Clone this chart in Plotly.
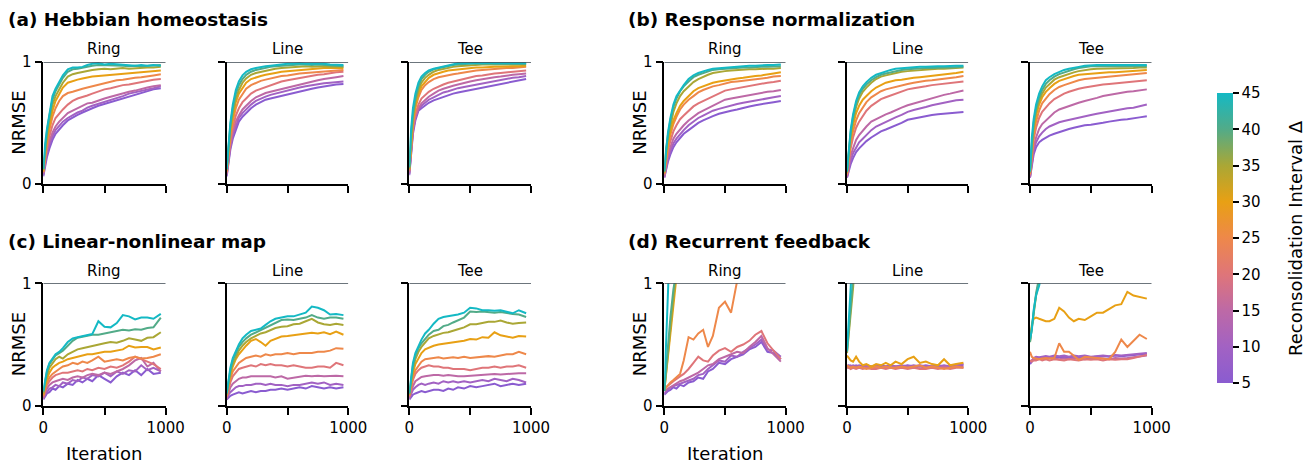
import plotly.graph_objects as go
from plotly.colors import sample_colorscale

# ---------------- data ----------------
ITER = [0, 15, 30, 50, 75, 100, 130, 160, 200, 240, 280, 320, 360, 400, 450,
        500, 550, 600, 650, 700, 750, 800, 850, 900, 960]
DELTAS = [5, 10, 15, 20, 25, 30, 35, 40, 45]
TOPOLOGIES = ["Ring", "Line", "Tee"]
PANEL_TITLES = ["(a) Hebbian homeostasis", "(b) Response normalization",
                "(c) Linear-nonlinear map", "(d) Recurrent feedback"]
CB_TICKS = [5, 10, 15, 20, 25, 30, 35, 40, 45]
CB_TITLE = "Reconsolidation Interval Δ"

# each list: one line per Delta (5 ... 45), NRMSE at ITER
A_RING = [
    [0.06,0.16,0.22,0.29,0.36,0.41,0.45,0.48,0.52,0.545,0.565,0.585,0.605,0.62,0.64,0.655,0.67,0.69,0.70,0.72,0.735,0.75,0.76,0.775,0.785],
    [0.07,0.18,0.25,0.32,0.39,0.44,0.48,0.51,0.54,0.565,0.585,0.60,0.625,0.64,0.655,0.67,0.69,0.705,0.72,0.74,0.75,0.765,0.775,0.785,0.80],
    [0.08,0.20,0.27,0.35,0.42,0.47,0.51,0.54,0.58,0.60,0.62,0.635,0.66,0.665,0.685,0.70,0.715,0.73,0.74,0.755,0.765,0.78,0.79,0.80,0.81],
    [0.09,0.22,0.30,0.39,0.48,0.54,0.58,0.61,0.65,0.68,0.70,0.71,0.725,0.74,0.76,0.775,0.785,0.80,0.81,0.815,0.825,0.835,0.845,0.855,0.86],
    [0.10,0.25,0.34,0.44,0.55,0.62,0.68,0.72,0.745,0.755,0.77,0.78,0.79,0.80,0.815,0.83,0.84,0.85,0.855,0.865,0.87,0.875,0.88,0.89,0.90],
    [0.10,0.27,0.37,0.48,0.60,0.68,0.74,0.79,0.83,0.845,0.855,0.865,0.875,0.88,0.885,0.89,0.895,0.90,0.905,0.91,0.915,0.915,0.92,0.925,0.93],
    [0.11,0.29,0.40,0.52,0.65,0.72,0.78,0.83,0.88,0.90,0.91,0.92,0.93,0.935,0.94,0.945,0.94,0.945,0.95,0.945,0.95,0.95,0.955,0.955,0.96],
    [0.12,0.31,0.43,0.56,0.69,0.76,0.82,0.87,0.92,0.94,0.945,0.955,0.96,0.97,0.975,0.975,0.97,0.975,0.97,0.965,0.97,0.965,0.97,0.97,0.975],
    [0.12,0.33,0.45,0.58,0.72,0.78,0.84,0.89,0.94,0.955,0.955,0.96,0.975,0.985,0.99,0.98,0.985,0.98,0.975,0.975,0.97,0.975,0.97,0.975,0.97],
]
A_LINE = [
    [0.06,0.19,0.28,0.37,0.45,0.51,0.55,0.58,0.62,0.65,0.67,0.69,0.70,0.71,0.72,0.73,0.745,0.76,0.77,0.78,0.79,0.80,0.805,0.815,0.82],
    [0.07,0.21,0.30,0.40,0.48,0.54,0.58,0.61,0.65,0.68,0.70,0.715,0.73,0.74,0.755,0.77,0.78,0.79,0.80,0.81,0.815,0.825,0.83,0.835,0.84],
    [0.08,0.22,0.32,0.42,0.51,0.56,0.61,0.64,0.68,0.71,0.73,0.745,0.755,0.765,0.78,0.79,0.80,0.815,0.83,0.84,0.85,0.86,0.87,0.875,0.885],
    [0.09,0.25,0.35,0.46,0.56,0.62,0.67,0.70,0.74,0.765,0.78,0.795,0.81,0.825,0.84,0.85,0.86,0.87,0.88,0.885,0.895,0.90,0.91,0.915,0.92],
    [0.10,0.27,0.39,0.51,0.62,0.69,0.74,0.78,0.81,0.83,0.845,0.855,0.865,0.875,0.885,0.89,0.90,0.905,0.91,0.915,0.92,0.925,0.93,0.93,0.935],
    [0.11,0.29,0.42,0.55,0.67,0.74,0.79,0.83,0.86,0.875,0.885,0.895,0.905,0.91,0.92,0.925,0.93,0.935,0.94,0.94,0.945,0.95,0.95,0.95,0.95],
    [0.11,0.31,0.45,0.58,0.70,0.77,0.83,0.865,0.895,0.91,0.92,0.93,0.94,0.945,0.95,0.955,0.96,0.96,0.965,0.96,0.965,0.965,0.96,0.96,0.96],
    [0.12,0.33,0.48,0.62,0.74,0.81,0.86,0.895,0.92,0.935,0.945,0.95,0.96,0.965,0.97,0.975,0.975,0.98,0.98,0.975,0.98,0.975,0.97,0.97,0.965],
    [0.12,0.35,0.50,0.65,0.77,0.84,0.89,0.92,0.94,0.95,0.96,0.965,0.97,0.975,0.98,0.985,0.985,0.99,0.985,0.985,0.99,0.985,0.98,0.98,0.975],
]
A_TEE = [
    [0.07,0.27,0.41,0.52,0.60,0.62,0.645,0.665,0.685,0.70,0.715,0.73,0.74,0.75,0.76,0.77,0.78,0.79,0.80,0.81,0.82,0.83,0.84,0.85,0.86],
    [0.08,0.29,0.43,0.54,0.61,0.64,0.665,0.69,0.71,0.73,0.75,0.76,0.775,0.785,0.795,0.805,0.815,0.825,0.835,0.845,0.855,0.865,0.87,0.875,0.885],
    [0.09,0.30,0.44,0.55,0.62,0.66,0.69,0.715,0.74,0.765,0.78,0.795,0.805,0.815,0.83,0.84,0.85,0.86,0.87,0.875,0.88,0.89,0.895,0.90,0.905],
    [0.10,0.32,0.46,0.57,0.65,0.70,0.73,0.755,0.78,0.80,0.815,0.83,0.84,0.85,0.86,0.875,0.885,0.89,0.90,0.905,0.91,0.915,0.92,0.925,0.93],
    [0.11,0.35,0.50,0.62,0.71,0.77,0.81,0.835,0.86,0.875,0.885,0.895,0.90,0.905,0.915,0.92,0.93,0.935,0.94,0.94,0.945,0.95,0.95,0.955,0.96],
    [0.12,0.37,0.52,0.64,0.74,0.80,0.84,0.87,0.895,0.91,0.92,0.93,0.935,0.94,0.945,0.95,0.955,0.955,0.96,0.96,0.96,0.965,0.965,0.965,0.97],
    [0.12,0.39,0.55,0.67,0.77,0.83,0.87,0.895,0.92,0.935,0.945,0.955,0.96,0.965,0.97,0.975,0.975,0.98,0.98,0.98,0.975,0.98,0.98,0.98,0.98],
    [0.13,0.41,0.57,0.70,0.80,0.86,0.895,0.92,0.94,0.95,0.96,0.97,0.975,0.98,0.985,0.985,0.99,0.985,0.99,0.985,0.985,0.99,0.985,0.985,0.985],
    [0.14,0.45,0.62,0.74,0.83,0.88,0.91,0.93,0.945,0.955,0.965,0.975,0.985,0.99,0.99,0.99,0.995,0.99,0.99,0.995,0.99,0.99,0.99,0.995,0.99],
]
B_RING = [
    [0.05,0.12,0.18,0.24,0.30,0.34,0.38,0.41,0.44,0.47,0.50,0.52,0.54,0.555,0.575,0.59,0.60,0.61,0.625,0.635,0.645,0.655,0.66,0.67,0.68],
    [0.05,0.14,0.20,0.27,0.33,0.37,0.41,0.44,0.48,0.51,0.54,0.56,0.58,0.60,0.615,0.63,0.645,0.655,0.665,0.675,0.685,0.695,0.70,0.71,0.72],
    [0.06,0.16,0.23,0.30,0.37,0.41,0.45,0.48,0.52,0.55,0.58,0.60,0.62,0.64,0.665,0.69,0.70,0.71,0.72,0.73,0.74,0.75,0.755,0.76,0.77],
    [0.07,0.19,0.27,0.35,0.43,0.48,0.53,0.56,0.60,0.635,0.66,0.68,0.70,0.72,0.745,0.765,0.775,0.785,0.795,0.805,0.815,0.825,0.83,0.835,0.845],
    [0.08,0.22,0.31,0.40,0.49,0.55,0.61,0.65,0.69,0.72,0.75,0.77,0.785,0.80,0.81,0.825,0.835,0.84,0.845,0.855,0.86,0.865,0.87,0.88,0.885],
    [0.09,0.24,0.33,0.43,0.52,0.58,0.64,0.68,0.72,0.76,0.785,0.80,0.815,0.83,0.84,0.85,0.86,0.865,0.87,0.88,0.885,0.89,0.895,0.905,0.915],
    [0.09,0.27,0.37,0.48,0.59,0.66,0.72,0.76,0.80,0.835,0.86,0.88,0.895,0.91,0.92,0.925,0.93,0.935,0.935,0.94,0.94,0.945,0.945,0.945,0.95],
    [0.10,0.29,0.40,0.52,0.63,0.70,0.76,0.80,0.84,0.875,0.895,0.91,0.925,0.935,0.94,0.945,0.95,0.955,0.955,0.955,0.96,0.96,0.96,0.96,0.965],
    [0.10,0.30,0.42,0.54,0.65,0.72,0.77,0.81,0.86,0.89,0.91,0.925,0.935,0.945,0.95,0.955,0.96,0.965,0.965,0.97,0.97,0.975,0.975,0.975,0.98],
]
B_LINE = [
    [0.05,0.11,0.16,0.21,0.26,0.29,0.32,0.35,0.38,0.405,0.43,0.445,0.46,0.475,0.50,0.525,0.535,0.55,0.555,0.565,0.57,0.575,0.58,0.585,0.59],
    [0.05,0.13,0.19,0.25,0.30,0.34,0.37,0.40,0.44,0.47,0.49,0.51,0.53,0.545,0.565,0.59,0.605,0.615,0.63,0.645,0.655,0.665,0.675,0.685,0.69],
    [0.06,0.16,0.23,0.29,0.36,0.40,0.44,0.47,0.51,0.53,0.555,0.57,0.585,0.60,0.625,0.645,0.66,0.675,0.69,0.70,0.715,0.73,0.74,0.75,0.765],
    [0.07,0.20,0.29,0.38,0.46,0.51,0.56,0.60,0.64,0.67,0.695,0.71,0.725,0.74,0.76,0.775,0.785,0.79,0.80,0.81,0.815,0.82,0.825,0.83,0.84],
    [0.08,0.23,0.33,0.43,0.52,0.58,0.63,0.67,0.71,0.735,0.76,0.775,0.785,0.80,0.81,0.82,0.83,0.84,0.845,0.85,0.855,0.86,0.865,0.875,0.885],
    [0.09,0.26,0.37,0.48,0.58,0.64,0.69,0.72,0.76,0.79,0.81,0.83,0.84,0.85,0.855,0.865,0.87,0.875,0.88,0.885,0.89,0.895,0.905,0.91,0.92],
    [0.09,0.28,0.40,0.52,0.63,0.70,0.755,0.79,0.83,0.86,0.88,0.89,0.90,0.91,0.92,0.925,0.93,0.935,0.94,0.94,0.945,0.945,0.95,0.95,0.955],
    [0.10,0.30,0.42,0.55,0.66,0.73,0.78,0.815,0.85,0.875,0.895,0.905,0.915,0.925,0.935,0.94,0.945,0.945,0.95,0.95,0.955,0.955,0.955,0.96,0.96],
    [0.10,0.31,0.44,0.57,0.68,0.75,0.80,0.835,0.87,0.895,0.91,0.925,0.935,0.945,0.95,0.955,0.955,0.96,0.96,0.965,0.965,0.965,0.97,0.97,0.97],
]
B_TEE = [
    [0.05,0.16,0.24,0.30,0.34,0.36,0.38,0.395,0.41,0.425,0.44,0.45,0.46,0.47,0.48,0.485,0.49,0.50,0.51,0.52,0.525,0.53,0.535,0.545,0.555],
    [0.05,0.18,0.27,0.34,0.39,0.42,0.45,0.47,0.49,0.505,0.515,0.525,0.535,0.545,0.555,0.565,0.575,0.585,0.59,0.60,0.61,0.62,0.625,0.635,0.65],
    [0.06,0.21,0.30,0.38,0.45,0.49,0.52,0.55,0.585,0.61,0.625,0.64,0.655,0.665,0.68,0.69,0.705,0.72,0.73,0.735,0.745,0.755,0.76,0.765,0.775],
    [0.07,0.25,0.36,0.46,0.54,0.59,0.63,0.66,0.695,0.72,0.74,0.755,0.77,0.78,0.79,0.80,0.805,0.815,0.82,0.825,0.83,0.835,0.84,0.845,0.85],
    [0.08,0.28,0.40,0.51,0.60,0.66,0.70,0.735,0.77,0.795,0.81,0.825,0.84,0.85,0.86,0.865,0.875,0.88,0.885,0.885,0.89,0.895,0.90,0.905,0.91],
    [0.09,0.31,0.44,0.56,0.65,0.71,0.755,0.785,0.82,0.845,0.86,0.875,0.885,0.895,0.90,0.905,0.91,0.915,0.915,0.915,0.92,0.92,0.925,0.93,0.935],
    [0.09,0.33,0.47,0.59,0.68,0.74,0.79,0.82,0.855,0.875,0.89,0.905,0.915,0.925,0.935,0.94,0.945,0.945,0.945,0.945,0.945,0.95,0.95,0.955,0.955],
    [0.10,0.35,0.50,0.62,0.71,0.77,0.82,0.85,0.88,0.90,0.915,0.93,0.94,0.95,0.96,0.965,0.965,0.965,0.965,0.965,0.96,0.96,0.965,0.965,0.965],
    [0.10,0.38,0.53,0.65,0.74,0.80,0.85,0.875,0.90,0.92,0.935,0.945,0.95,0.96,0.97,0.975,0.975,0.975,0.975,0.98,0.975,0.975,0.98,0.98,0.975],
]
C_RING = [
    [0.05,0.08,0.10,0.11,0.14,0.13,0.16,0.15,0.18,0.17,0.21,0.19,0.22,0.20,0.25,0.22,0.19,0.24,0.27,0.25,0.29,0.25,0.30,0.26,0.27],
    [0.06,0.10,0.11,0.14,0.15,0.17,0.16,0.19,0.18,0.21,0.20,0.23,0.22,0.25,0.24,0.27,0.24,0.28,0.26,0.29,0.28,0.33,0.29,0.31,0.28],
    [0.06,0.11,0.14,0.17,0.19,0.20,0.21,0.22,0.21,0.23,0.24,0.23,0.25,0.26,0.25,0.27,0.26,0.28,0.30,0.33,0.37,0.39,0.32,0.35,0.28],
    [0.07,0.13,0.17,0.20,0.23,0.25,0.26,0.27,0.27,0.28,0.29,0.28,0.30,0.29,0.31,0.30,0.32,0.31,0.33,0.36,0.40,0.38,0.36,0.34,0.30],
    [0.08,0.15,0.19,0.23,0.26,0.28,0.30,0.32,0.33,0.35,0.34,0.36,0.35,0.37,0.40,0.36,0.37,0.38,0.37,0.39,0.40,0.385,0.39,0.40,0.42],
    [0.09,0.17,0.22,0.27,0.31,0.33,0.35,0.36,0.38,0.39,0.40,0.41,0.42,0.42,0.43,0.44,0.44,0.45,0.46,0.49,0.475,0.48,0.48,0.46,0.475],
    [0.10,0.19,0.25,0.31,0.35,0.38,0.40,0.385,0.42,0.44,0.46,0.47,0.48,0.49,0.50,0.51,0.52,0.515,0.53,0.55,0.54,0.53,0.555,0.56,0.60],
    [0.11,0.21,0.28,0.34,0.38,0.41,0.43,0.45,0.49,0.53,0.555,0.565,0.57,0.58,0.58,0.59,0.595,0.61,0.62,0.615,0.625,0.62,0.635,0.64,0.72],
    [0.12,0.22,0.29,0.35,0.39,0.42,0.44,0.47,0.52,0.55,0.56,0.57,0.575,0.585,0.69,0.645,0.64,0.675,0.74,0.73,0.705,0.72,0.72,0.71,0.75],
]
C_LINE = [
    [0.05,0.07,0.08,0.09,0.10,0.11,0.10,0.11,0.12,0.11,0.12,0.12,0.13,0.13,0.14,0.13,0.14,0.15,0.14,0.16,0.15,0.14,0.15,0.14,0.15],
    [0.05,0.09,0.11,0.13,0.15,0.16,0.16,0.17,0.17,0.18,0.18,0.17,0.18,0.17,0.17,0.16,0.17,0.17,0.18,0.19,0.18,0.19,0.17,0.18,0.17],
    [0.06,0.11,0.15,0.18,0.20,0.22,0.23,0.23,0.24,0.24,0.245,0.24,0.24,0.23,0.24,0.22,0.23,0.24,0.245,0.24,0.245,0.24,0.245,0.245,0.24],
    [0.07,0.14,0.19,0.24,0.27,0.30,0.31,0.32,0.33,0.32,0.34,0.33,0.34,0.33,0.33,0.32,0.33,0.32,0.31,0.31,0.32,0.32,0.31,0.35,0.33],
    [0.08,0.16,0.22,0.28,0.32,0.35,0.37,0.39,0.40,0.41,0.40,0.42,0.41,0.42,0.42,0.43,0.42,0.43,0.43,0.43,0.44,0.44,0.45,0.47,0.465],
    [0.09,0.18,0.25,0.32,0.38,0.42,0.46,0.49,0.53,0.545,0.52,0.49,0.53,0.545,0.565,0.57,0.575,0.58,0.59,0.595,0.59,0.60,0.585,0.605,0.58],
    [0.09,0.19,0.27,0.34,0.40,0.45,0.49,0.52,0.55,0.57,0.59,0.60,0.62,0.635,0.645,0.65,0.665,0.67,0.69,0.71,0.68,0.665,0.66,0.67,0.66],
    [0.10,0.21,0.29,0.37,0.43,0.48,0.52,0.55,0.58,0.60,0.62,0.64,0.66,0.68,0.70,0.705,0.70,0.71,0.72,0.74,0.72,0.71,0.72,0.72,0.71],
    [0.10,0.22,0.31,0.39,0.45,0.50,0.55,0.58,0.61,0.62,0.63,0.66,0.69,0.71,0.72,0.73,0.73,0.745,0.76,0.81,0.80,0.78,0.745,0.75,0.74],
]
C_TEE = [
    [0.05,0.07,0.09,0.10,0.11,0.12,0.11,0.12,0.13,0.13,0.12,0.14,0.13,0.15,0.14,0.16,0.15,0.16,0.17,0.18,0.16,0.17,0.18,0.17,0.18],
    [0.06,0.10,0.13,0.15,0.17,0.18,0.17,0.18,0.19,0.18,0.20,0.19,0.20,0.19,0.20,0.19,0.20,0.21,0.20,0.22,0.21,0.20,0.22,0.21,0.19],
    [0.06,0.12,0.16,0.20,0.22,0.235,0.24,0.245,0.25,0.25,0.245,0.25,0.245,0.24,0.24,0.245,0.25,0.255,0.26,0.26,0.255,0.26,0.265,0.265,0.265],
    [0.07,0.15,0.21,0.26,0.29,0.31,0.32,0.33,0.32,0.32,0.31,0.31,0.30,0.30,0.30,0.29,0.30,0.31,0.31,0.32,0.31,0.32,0.32,0.33,0.31],
    [0.08,0.17,0.24,0.29,0.33,0.36,0.38,0.385,0.39,0.395,0.385,0.39,0.395,0.39,0.40,0.39,0.395,0.40,0.405,0.40,0.41,0.42,0.42,0.44,0.42],
    [0.09,0.19,0.27,0.34,0.39,0.43,0.46,0.475,0.49,0.50,0.505,0.51,0.515,0.52,0.53,0.545,0.54,0.56,0.555,0.60,0.575,0.565,0.555,0.57,0.565],
    [0.09,0.21,0.30,0.38,0.44,0.48,0.52,0.55,0.57,0.585,0.595,0.60,0.61,0.625,0.64,0.665,0.665,0.675,0.685,0.685,0.695,0.68,0.67,0.675,0.68],
    [0.10,0.23,0.33,0.41,0.47,0.51,0.55,0.58,0.61,0.62,0.65,0.66,0.68,0.70,0.72,0.77,0.765,0.77,0.765,0.76,0.765,0.755,0.75,0.745,0.725],
    [0.10,0.25,0.35,0.43,0.49,0.54,0.59,0.62,0.67,0.71,0.725,0.73,0.735,0.745,0.76,0.80,0.795,0.78,0.78,0.775,0.78,0.77,0.755,0.78,0.755],
]
D_RING = [
    [0.09,0.11,0.12,0.13,0.15,0.14,0.17,0.16,0.19,0.20,0.23,0.22,0.28,0.30,0.35,0.34,0.38,0.40,0.42,0.46,0.48,0.52,0.44,0.43,0.38],
    [0.10,0.12,0.13,0.15,0.16,0.17,0.18,0.19,0.21,0.22,0.25,0.26,0.30,0.33,0.37,0.36,0.41,0.40,0.44,0.47,0.50,0.54,0.46,0.45,0.40],
    [0.12,0.13,0.14,0.15,0.17,0.18,0.20,0.21,0.23,0.25,0.27,0.30,0.33,0.34,0.38,0.40,0.42,0.44,0.43,0.48,0.52,0.57,0.47,0.42,0.36],
    [0.14,0.15,0.16,0.18,0.20,0.22,0.24,0.26,0.30,0.35,0.40,0.37,0.36,0.41,0.45,0.47,0.44,0.48,0.50,0.53,0.58,0.61,0.51,0.45,0.38],
    [0.13,0.15,0.17,0.19,0.21,0.23,0.26,0.37,0.56,0.54,0.59,0.62,0.48,0.57,0.80,0.85,0.76,1.02,1.40,1.75,2.10,2.40,2.70,3.00,3.30],
    [0.12,0.26,0.42,0.62,0.86,1.05,1.30,1.55,1.85,2.10,2.35,2.60,2.80,3.00,3.20,3.40,3.60,3.80,3.90,4.00,4.10,4.20,4.30,4.40,4.50],
    [0.12,0.28,0.45,0.65,0.88,1.10,1.35,1.60,1.90,2.20,2.45,2.70,2.90,3.10,3.30,3.50,3.70,3.90,4.00,4.10,4.20,4.30,4.40,4.50,4.60],
    [0.12,0.30,0.50,0.72,0.95,1.20,1.45,1.70,2.00,2.30,2.55,2.80,3.00,3.20,3.40,3.60,3.80,4.00,4.10,4.20,4.30,4.40,4.50,4.60,4.70],
    [0.12,0.55,0.98,1.45,1.90,2.30,2.60,2.90,3.20,3.40,3.60,3.80,4.00,4.10,4.30,4.40,4.60,4.70,4.80,4.90,5.00,5.10,5.20,5.30,5.40],
]
D_LINE = [
    [0.32,0.33,0.32,0.33,0.32,0.33,0.32,0.33,0.32,0.32,0.33,0.32,0.33,0.32,0.32,0.33,0.32,0.33,0.32,0.32,0.33,0.32,0.32,0.33,0.33],
    [0.33,0.32,0.33,0.32,0.33,0.32,0.32,0.33,0.32,0.33,0.32,0.32,0.33,0.32,0.33,0.32,0.33,0.32,0.33,0.32,0.32,0.33,0.32,0.33,0.34],
    [0.32,0.31,0.32,0.31,0.32,0.31,0.32,0.32,0.31,0.32,0.31,0.32,0.31,0.32,0.31,0.32,0.31,0.32,0.31,0.32,0.31,0.32,0.31,0.32,0.32],
    [0.31,0.31,0.30,0.31,0.30,0.31,0.30,0.31,0.30,0.30,0.31,0.30,0.31,0.30,0.31,0.30,0.31,0.30,0.30,0.31,0.30,0.31,0.30,0.31,0.31],
    [0.33,0.32,0.31,0.32,0.31,0.32,0.31,0.30,0.31,0.32,0.31,0.32,0.31,0.31,0.32,0.31,0.32,0.33,0.31,0.32,0.31,0.30,0.31,0.32,0.31],
    [0.41,0.39,0.37,0.36,0.40,0.36,0.33,0.34,0.32,0.34,0.33,0.35,0.33,0.36,0.34,0.38,0.40,0.35,0.36,0.34,0.33,0.38,0.33,0.34,0.35],
    [0.43,0.58,0.74,0.96,1.30,1.60,1.90,2.20,2.50,2.80,3.00,3.20,3.40,3.60,3.80,4.00,4.10,4.20,4.30,4.40,4.50,4.60,4.70,4.80,4.90],
    [0.44,0.62,0.80,1.05,1.40,1.70,2.00,2.30,2.60,2.90,3.10,3.30,3.50,3.70,3.90,4.10,4.20,4.30,4.40,4.50,4.60,4.70,4.80,4.90,5.00],
    [0.45,0.68,0.92,1.30,1.70,2.10,2.50,2.80,3.10,3.30,3.50,3.70,3.90,4.10,4.30,4.50,4.60,4.70,4.80,4.90,5.00,5.10,5.20,5.30,5.40],
]
D_TEE = [
    [0.34,0.36,0.38,0.39,0.385,0.39,0.395,0.39,0.40,0.395,0.40,0.39,0.40,0.395,0.40,0.395,0.40,0.405,0.40,0.41,0.405,0.41,0.415,0.42,0.425],
    [0.35,0.37,0.39,0.40,0.395,0.40,0.405,0.40,0.41,0.405,0.41,0.40,0.41,0.405,0.41,0.40,0.405,0.41,0.405,0.415,0.41,0.415,0.42,0.425,0.43],
    [0.36,0.37,0.38,0.375,0.38,0.385,0.38,0.39,0.385,0.38,0.385,0.38,0.39,0.385,0.38,0.385,0.39,0.385,0.38,0.39,0.385,0.39,0.395,0.40,0.41],
    [0.37,0.36,0.37,0.37,0.38,0.37,0.38,0.37,0.38,0.375,0.37,0.38,0.375,0.37,0.38,0.375,0.38,0.37,0.38,0.375,0.38,0.38,0.39,0.40,0.415],
    [0.44,0.40,0.39,0.385,0.38,0.385,0.39,0.385,0.39,0.51,0.44,0.44,0.41,0.375,0.40,0.395,0.39,0.39,0.38,0.44,0.54,0.48,0.53,0.58,0.545],
    [0.54,0.66,0.71,0.72,0.71,0.70,0.69,0.69,0.71,0.80,0.77,0.72,0.69,0.71,0.70,0.73,0.76,0.76,0.79,0.82,0.83,0.93,0.90,0.89,0.875],
    [0.52,0.64,0.76,0.90,1.02,1.25,1.50,1.80,2.10,2.40,2.60,2.80,3.00,3.20,3.40,3.60,3.70,3.80,3.90,4.00,4.10,4.20,4.30,4.40,4.50],
    [0.52,0.63,0.77,0.92,1.05,1.30,1.55,1.85,2.15,2.45,2.65,2.85,3.05,3.25,3.45,3.65,3.75,3.85,3.95,4.05,4.15,4.25,4.35,4.45,4.55],
    [0.54,0.62,0.78,0.90,0.98,1.10,1.40,1.70,2.00,2.30,2.50,2.70,2.90,3.10,3.30,3.50,3.60,3.70,3.80,3.90,4.00,4.10,4.20,4.30,4.40],
]

# ---------------- styling ----------------
W, H = 1316, 466
FONT = "DejaVu Sans"
CSCALE = [
    [0.0, "#8a5cd0"], [0.125, "#a262c3"], [0.25, "#bd69a6"], [0.375, "#df7579"],
    [0.5, "#ee884a"], [0.625, "#e8a014"], [0.75, "#aaa735"], [0.875, "#52ab88"],
    [1.0, "#14b9c4"],
]
LINE_COLORS = sample_colorscale(CSCALE, [(d - 5) / 40 for d in DELTAS])

XPX = [(43.3, 165.7), (226.7, 348.3), (409.3, 531.0),
       (664.3, 785.7), (847.0, 968.3), (1030.0, 1151.7)]
YPX = [(62.0, 183.7), (283.3, 405.7)]

PANELS = [
    (PANEL_TITLES[0], 0, 0, [A_RING, A_LINE, A_TEE]),
    (PANEL_TITLES[1], 0, 3, [B_RING, B_LINE, B_TEE]),
    (PANEL_TITLES[2], 1, 0, [C_RING, C_LINE, C_TEE]),
    (PANEL_TITLES[3], 1, 3, [D_RING, D_LINE, D_TEE]),
]


def fx(px):
    return px / W


def fy(py):
    return 1 - py / H


fig = go.Figure()
layout = {}
annotations = []
shapes = []
n = 0
for title, row, col0, datasets in PANELS:
    annotations.append(dict(
        text=f"<b>{title}</b>", x=fx(6 if col0 == 0 else 626),
        y=fy(19 if row == 0 else 241), xref="paper", yref="paper",
        xanchor="left", yanchor="middle", showarrow=False,
        font=dict(family=FONT, size=18.5, color="black")))
    for j, data in enumerate(datasets):
        n += 1
        col = col0 + j
        xs = "" if n == 1 else str(n)
        x0, x1 = XPX[col]
        y0, y1 = YPX[row]
        for k, d in enumerate(DELTAS):
            fig.add_trace(go.Scatter(
                x=ITER, y=data[k], mode="lines",
                line=dict(color=LINE_COLORS[k], width=2),
                xaxis="x" + xs, yaxis="y" + xs, showlegend=False,
                hovertemplate=f"Δ={d}<br>%{{x}}: %{{y:.2f}}<extra></extra>"))
        is_bottom = row == 1
        is_left = j == 0
        layout["xaxis" + xs] = dict(
            domain=[fx(x0), fx(x1)], anchor="y" + xs, range=[0, 1000],
            showline=True, linecolor="black", linewidth=1.6,
            ticks="outside", ticklen=7, tickwidth=1.6, tickcolor="black",
            tickvals=[0, 500, 1000], ticktext=["0", "", "1000"],
            showticklabels=is_bottom, showgrid=False, zeroline=False,
            automargin=False,
            tickfont=dict(family=FONT, size=15, color="black"), fixedrange=True)
        layout["yaxis" + xs] = dict(
            domain=[fy(y1), fy(y0)], anchor="x" + xs, range=[0, 1],
            showline=True, linecolor="black", linewidth=1.6,
            ticks="outside", ticklen=7, tickwidth=1.6, tickcolor="black",
            tickvals=[0, 1], ticktext=["0", "1"],
            showticklabels=is_left, showgrid=False, zeroline=False,
            automargin=False,
            tickfont=dict(family=FONT, size=15, color="black"), fixedrange=True)
        shapes.append(dict(type="line", xref="x" + xs, yref="y" + xs,
                           x0=0, x1=1000, y0=1, y1=1,
                           line=dict(color="#3b4750", width=1.5), layer="above"))
        annotations.append(dict(
            text=TOPOLOGIES[j], x=fx((x0 + x1) / 2), y=fy(49 if row == 0 else 271),
            xref="paper", yref="paper", xanchor="center", yanchor="middle",
            showarrow=False, font=dict(family=FONT, size=15, color="black")))
        if is_left:
            annotations.append(dict(
                text="NRMSE", x=fx(x0 - 24.5), y=fy((y0 + y1) / 2),
                xref="paper", yref="paper", xanchor="center", yanchor="middle",
                textangle=-90, showarrow=False,
                font=dict(family=FONT, size=18, color="black")))
            if is_bottom:
                annotations.append(dict(
                    text="Iteration", x=fx((x0 + x1) / 2), y=fy(453),
                    xref="paper", yref="paper", xanchor="center", yanchor="middle",
                    showarrow=False, font=dict(family=FONT, size=18, color="black")))

# colorbar title
annotations.append(dict(
    text=CB_TITLE, x=fx(1295), y=fy(238), xref="paper", yref="paper",
    xanchor="center", yanchor="middle", textangle=-90, showarrow=False,
    font=dict(family=FONT, size=18, color="black")))

# colorbar carrier
fig.add_trace(go.Scatter(
    x=[None, None], y=[None, None], mode="markers", showlegend=False,
    hoverinfo="skip",
    marker=dict(color=[DELTAS[0], DELTAS[-1]], colorscale=CSCALE, cmin=5, cmax=45,
                showscale=True,
                colorbar=dict(
                    x=fx(1217), xanchor="left", xpad=0, ypad=0,
                    y=fy(238), yanchor="middle", len=290, lenmode="pixels",
                    thickness=15.5, thicknessmode="pixels", outlinewidth=0,
                    ticks="outside", ticklen=6, tickwidth=1.6, tickcolor="black",
                    tickvals=CB_TICKS, tickprefix="\u2002",
                    tickfont=dict(family=FONT, size=15, color="black"))),
    xaxis="x", yaxis="y"))

fig.update_layout(
    width=W, height=H, margin=dict(l=0, r=0, t=0, b=0, autoexpand=False),
    paper_bgcolor="white", plot_bgcolor="white",
    font=dict(family=FONT, color="black"),
    annotations=annotations, shapes=shapes, showlegend=False,
    **layout)

fig.write_html("out.html")
